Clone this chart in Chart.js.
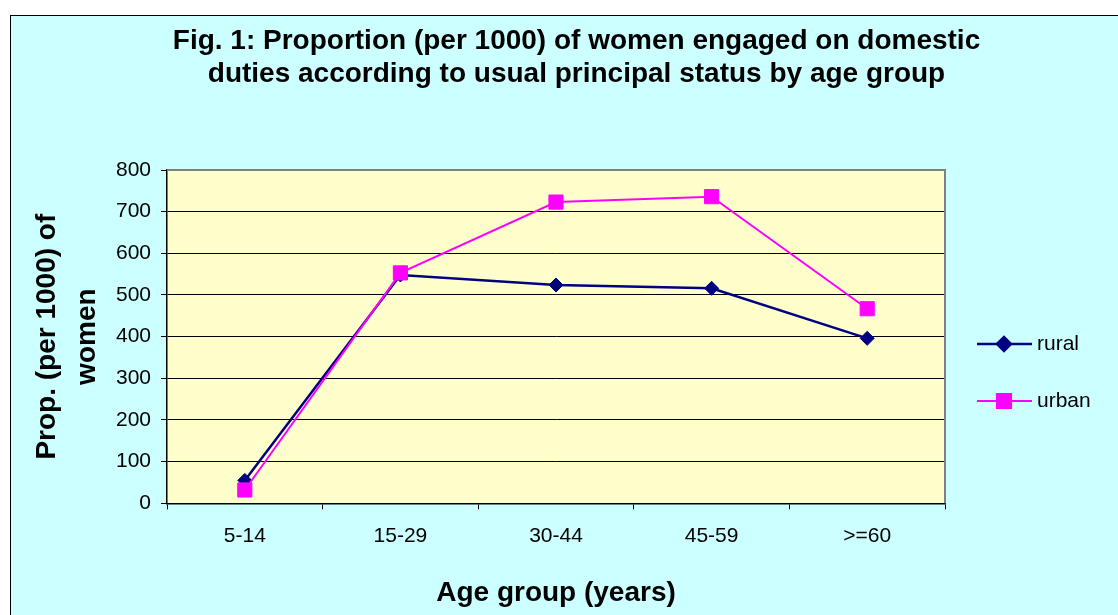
<!DOCTYPE html>
<html><head><meta charset="utf-8">
<script src="https://cdn.jsdelivr.net/npm/chart.js@4.4.0/dist/chart.umd.min.js"></script>
<style>html,body{margin:0;padding:0;background:#fff;overflow:hidden;} #wrap{width:1118px;height:615px;position:relative;}</style>
</head><body><div id="wrap"><canvas id="c" width="1118" height="615"></canvas></div>
<script>
const categories = ['5-14', '15-29', '30-44', '45-59', '>=60'];
const rural = [55, 548, 524, 516, 396];
const urban = [32, 553, 723, 736, 467];
const yMin = 0, yMax = 800, yStep = 100;
const titleLines = ['Fig. 1: Proportion (per 1000) of women engaged on domestic', 'duties according to usual principal status by age group'];
const yTitle = ['Prop. (per 1000) of', 'women'];
const xTitle = 'Age group (years)';
const seriesNames = ['rural', 'urban'];

const FONT = "'Liberation Sans', Arial, Helvetica, sans-serif";
const RURAL_C = '#000080', URBAN_C = '#FF00FF';

const decor = {
  id: 'decor',
  beforeDraw(chart) {
    const ctx = chart.ctx, a = chart.chartArea;
    ctx.save();
    ctx.fillStyle = '#ffffff';
    ctx.fillRect(0, 0, chart.width, chart.height);
    ctx.fillStyle = '#CCFFFF';
    ctx.fillRect(10, 15, chart.width + 50, chart.height + 50);
    ctx.strokeStyle = '#000';
    ctx.lineWidth = 1;
    ctx.strokeRect(10.5, 15.5, chart.width + 50, chart.height + 50);
    ctx.fillStyle = '#FFFFCC';
    ctx.fillRect(a.left, a.top, a.right - a.left, a.bottom - a.top);
    // main title
    ctx.fillStyle = '#000';
    ctx.font = 'bold 28px ' + FONT;
    ctx.textAlign = 'center';
    ctx.textBaseline = 'alphabetic';
    ctx.fillText(titleLines[0], 576.5, 49);
    ctx.fillText(titleLines[1], 576.5, 82);
    ctx.restore();
  },
  beforeDatasetsDraw(chart) {
    const ctx = chart.ctx, a = chart.chartArea;
    ctx.save();
    ctx.strokeStyle = '#808080';
    ctx.lineWidth = 2;
    ctx.beginPath();
    ctx.moveTo(a.left, a.top);
    ctx.lineTo(a.right, a.top);
    ctx.lineTo(a.right, a.bottom);
    ctx.stroke();
    ctx.restore();
  },
  afterDraw(chart) {
    const ctx = chart.ctx;
    const items = [
      {name: seriesNames[0], color: RURAL_C, style: 'rectRot', r: 7, y: 344},
      {name: seriesNames[1], color: URBAN_C, style: 'rect', r: 10, y: 401}
    ];
    ctx.save();
    items.forEach(it => {
      ctx.strokeStyle = it.color;
      ctx.lineWidth = it.name === 'rural' ? 2.5 : 2;
      ctx.beginPath();
      ctx.moveTo(977, it.y);
      ctx.lineTo(1032, it.y);
      ctx.stroke();
      ctx.fillStyle = it.color;
      Chart.helpers.drawPoint(ctx, {pointStyle: it.style, radius: it.r, borderWidth: 1, rotation: 0}, 1004, it.y);
      ctx.fillStyle = '#000';
      ctx.font = '21px ' + FONT;
      ctx.textAlign = 'left';
      ctx.textBaseline = 'middle';
      ctx.fillText(it.name, 1037, it.y);
    });
    ctx.restore();
  }
};

new Chart(document.getElementById('c'), {
  type: 'line',
  data: {
    labels: categories,
    datasets: [
      {label: seriesNames[0], data: rural, borderColor: RURAL_C, backgroundColor: RURAL_C,
       borderWidth: 2.5, pointStyle: 'rectRot', pointRadius: 7, pointBorderWidth: 1, tension: 0, order: 1},
      {label: seriesNames[1], data: urban, borderColor: URBAN_C, backgroundColor: URBAN_C,
       borderWidth: 2, pointStyle: 'rect', pointRadius: 10, pointBorderWidth: 1, tension: 0, order: 0}
    ]
  },
  options: {
    responsive: false,
    animation: false,
    layout: {padding: {left: 0, top: 170, right: 173, bottom: 0}},
    plugins: {legend: {display: false}, title: {display: false}, tooltip: {enabled: false}},
    scales: {
      x: {
        type: 'category',
        offset: true,
        grid: {offset: true, drawOnChartArea: false, drawTicks: true, tickLength: 6, color: '#000', lineWidth: 1},
        border: {display: true, color: '#000', width: 1.5},
        ticks: {color: '#000', font: {family: FONT, size: 21}, padding: 14, maxRotation: 0},
        title: {display: true, text: xTitle, color: '#000', font: {family: FONT, size: 28, weight: 'bold', lineHeight: 1.2}, padding: {top: 0, bottom: 5}},
        afterFit(s) { s.height = 111.7; }
      },
      y: {
        min: yMin, max: yMax,
        ticks: {stepSize: yStep, color: '#000', font: {family: FONT, size: 21}, padding: 10},
        grid: {color: '#000', lineWidth: 1, drawTicks: true, tickLength: 6, tickColor: '#000'},
        border: {display: true, color: '#000', width: 1.5},
        title: {display: true, text: yTitle, color: '#000', font: {family: FONT, size: 28, weight: 'bold', lineHeight: 1.43}, padding: {top: 27, bottom: 0}},
        afterFit(s) { s.width = 167; }
      }
    }
  },
  plugins: [decor]
});
</script></body></html>
